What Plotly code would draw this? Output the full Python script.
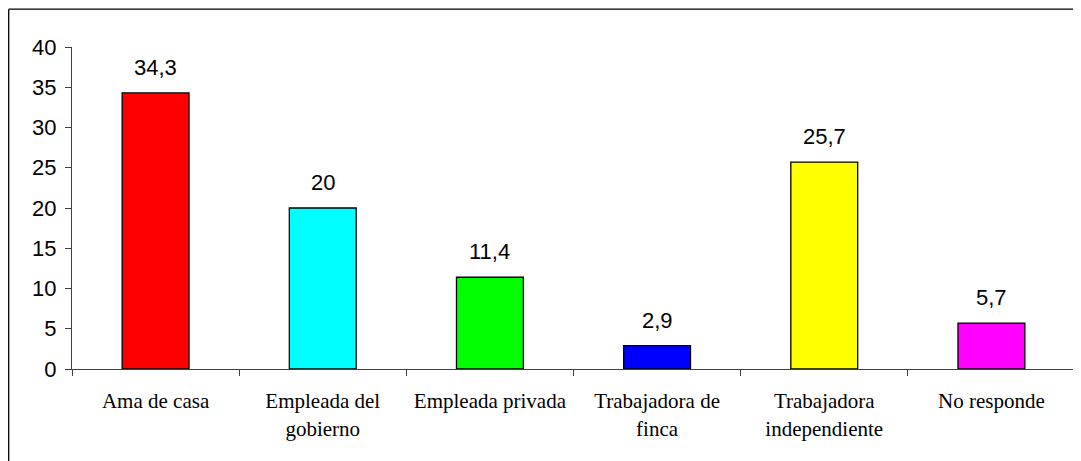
import plotly.graph_objects as go

categories = ["Ama de casa", "Empleada del<br>gobierno", "Empleada privada",
              "Trabajadora de<br>finca", "Trabajadora<br>independiente", "No responde"]
values = [34.3, 20, 11.4, 2.9, 25.7, 5.7]
labels = ["34,3", "20", "11,4", "2,9", "25,7", "5,7"]
colors = ["#FF0000", "#00FFFF", "#00FF00", "#0000FF", "#FFFF00", "#FF00FF"]

# page has an 8px body margin; figure sized to fill the rest of the window
W, H = 1073, 453
ml, mr, mt, mb = 64, 6, 39, 92

fig = go.Figure(go.Bar(
    x=categories, y=values,
    marker=dict(color=colors, line=dict(color="black", width=1.3)),
    width=0.4, cliponaxis=False, hoverinfo="skip",
))

for c, v, t in zip(categories, values, labels):
    fig.add_annotation(x=c, y=v, text=t, showarrow=False, yanchor="bottom",
                       yshift=11,
                       font=dict(family="Liberation Sans, Arial", size=22, color="black"))

pw = W - ml - mr
ph = H - mt - mb
fig.update_layout(
    width=W, height=H,
    margin=dict(l=ml, r=mr, t=mt, b=mb),
    paper_bgcolor="white", plot_bgcolor="white",
    showlegend=False,
    xaxis=dict(
        type="category", range=[-0.5, 5.5],
        showline=True, linecolor="#404040", linewidth=1.3,
        ticks="outside", tickson="boundaries", ticklen=6, tickcolor="#404040", tickwidth=1.3,
        ticklabelstandoff=13,
        tickfont=dict(family="Liberation Serif, Times New Roman", size=21, color="black"),
        showgrid=False,
    ),
    yaxis=dict(
        range=[0, 40], tickvals=[0, 5, 10, 15, 20, 25, 30, 35, 40],
        showline=True, linecolor="#404040", linewidth=1.3,
        ticks="outside", ticklen=6, tickcolor="#404040", tickwidth=1.3,
        ticklabelstandoff=4,
        tickfont=dict(family="Liberation Sans, Arial", size=22, color="black"),
        showgrid=False, zeroline=False,
    ),
    shapes=[
        dict(type="line", xref="paper", yref="paper",
             x0=(0.7 - ml) / pw, x1=(W + 5 - ml) / pw,
             y0=(H - mb - 1.2) / ph, y1=(H - mb - 1.2) / ph,
             line=dict(color="black", width=1.3)),
        dict(type="line", xref="paper", yref="paper",
             x0=(0.7 - ml) / pw, x1=(0.7 - ml) / pw,
             y0=(H - mb - 1.2) / ph, y1=-(mb + 5) / ph,
             line=dict(color="black", width=1.3)),
    ],
)

fig.write_html("out.html")
